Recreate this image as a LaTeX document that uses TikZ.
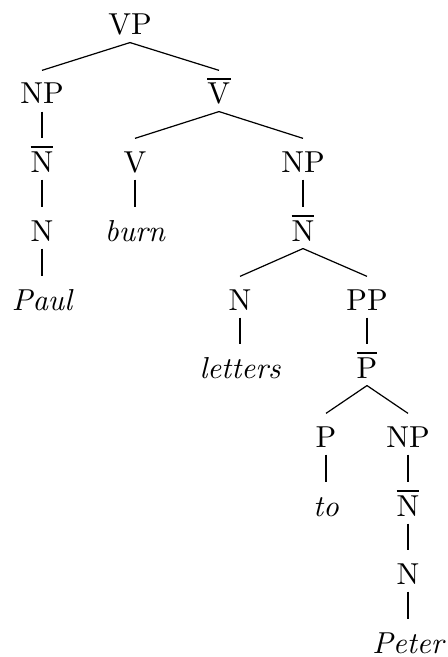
\documentclass[tikz,border=0pt]{standalone}
\usepackage{tikz}

\begin{document}
\begin{tikzpicture}[x=0.33pt, y=-0.33pt,
      cat/.style={anchor=base, inner sep=2.3pt, text height=8.6pt, text depth=0pt},
      word/.style={cat, font=\itshape},
      branch/.style={draw=black, line width=0.4pt}
    ]
      \useasboundingbox (0,0) rectangle (447,657);
      % levels are 68.7 px apart
      \node[cat] (vp) at (130,35) {VP};
      \node[cat] (np1) at (42,104) {NP};
      \node[cat] (vbar) at (219,104) {$\overline{\mathrm{V}}$};
      \node[cat] (nbar1) at (42,172) {$\overline{\mathrm{N}}$};
      \node[cat] (v) at (135,172) {V};
      \node[cat] (np2) at (303,172) {NP};
      \node[cat] (n1) at (42,241) {N};
      \node[word] (burn) at (135,241) {burn};
      \node[cat] (nbar2) at (303,241) {$\overline{\mathrm{N}}$};
      \node[word] (paul) at (42,310) {Paul};
      \node[cat] (n2) at (240,310) {N};
      \node[cat] (pp) at (367,310) {PP};
      \node[word] (letters) at (240,378) {letters};
      \node[cat] (pbar) at (367,378) {$\overline{\mathrm{P}}$};
      \node[cat] (p) at (326,447) {P};
      \node[cat] (np3) at (408,447) {NP};
      \node[word] (to) at (326,516) {to};
      \node[cat] (nbar3) at (408,516) {$\overline{\mathrm{N}}$};
      \node[cat] (n3) at (408,584) {N};
      \node[word] (peter) at (408,653) {Peter};
      \draw[branch] (vp.south) -- (np1.north);
      \draw[branch] (vp.south) -- (vbar.north);
      \draw[branch] (np1.south) -- (nbar1.north);
      \draw[branch] (nbar1.south) -- (n1.north);
      \draw[branch] (n1.south) -- (paul.north);
      \draw[branch] (vbar.south) -- (v.north);
      \draw[branch] (vbar.south) -- (np2.north);
      \draw[branch] (v.south) -- (burn.north);
      \draw[branch] (np2.south) -- (nbar2.north);
      \draw[branch] (nbar2.south) -- (n2.north);
      \draw[branch] (nbar2.south) -- (pp.north);
      \draw[branch] (n2.south) -- (letters.north);
      \draw[branch] (pp.south) -- (pbar.north);
      \draw[branch] (pbar.south) -- (p.north);
      \draw[branch] (pbar.south) -- (np3.north);
      \draw[branch] (p.south) -- (to.north);
      \draw[branch] (np3.south) -- (nbar3.north);
      \draw[branch] (nbar3.south) -- (n3.north);
      \draw[branch] (n3.south) -- (peter.north);
    \end{tikzpicture}
\end{document}
